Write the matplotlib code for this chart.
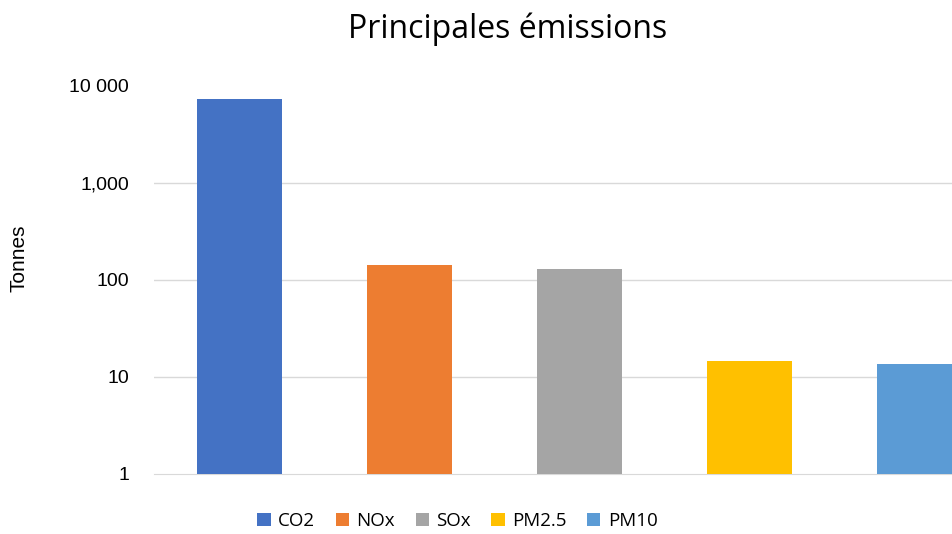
import numpy as np
import matplotlib.pyplot as plt
from matplotlib.ticker import FixedLocator, FixedFormatter, NullLocator

polluants = ['CO2', 'NOx', 'SOx', 'PM2.5', 'PM10']
tonnes = [7350, 143, 130, 14.6, 13.5]
couleurs = ['#4472C4', '#ED7D31', '#A5A5A5', '#FFC000', '#5B9BD5']
graduations = [1, 10, 100, 1000, 10000]
etiquettes = ['1', '10', '100', '1,000', '10 000']

fig = plt.figure(figsize=(9.53, 5.34), dpi=100)
ax = fig.add_axes([0.1616, 0.1124, 0.892, 0.727])

x = np.arange(len(polluants))
ax.set_yscale('log')
bars = ax.bar(x, tonnes, width=0.5, color=couleurs, label=polluants, zorder=3)
ax.set_ylim(1, 10000)
ax.set_xlim(-0.5, len(polluants) - 0.5)

ax.yaxis.set_major_locator(FixedLocator(graduations))
ax.yaxis.set_major_formatter(FixedFormatter(etiquettes))
ax.yaxis.set_minor_locator(NullLocator())
ax.set_xticks([])
ax.tick_params(axis='y', length=0, pad=18, labelsize=14)
for lab in ax.get_yticklabels():
    lab.set_family('Liberation Sans')

for g in graduations[1:-1]:
    ax.axhline(g, color='#d9d9d9', linewidth=1, zorder=1)
for side in ['top', 'right', 'left']:
    ax.spines[side].set_visible(False)
ax.spines['bottom'].set_color('#d9d9d9')

ax.set_ylabel('Tonnes', fontsize=15, family='Liberation Sans')
ax.yaxis.set_label_coords(-0.148, 0.555)
fig.text(0.533, 0.945, 'Principales émissions', fontsize=23, family='Open Sans',
         ha='center', va='center')

fig.legend(bars, polluants, loc='center', bbox_to_anchor=(0.48, 0.025),
           ncol=5, frameon=False, handlelength=0.7, handleheight=0.7,
           handletextpad=0.4, columnspacing=1.1,
           prop={'family': 'Open Sans', 'size': 13.5})

fig.savefig('out.png', dpi=100)
